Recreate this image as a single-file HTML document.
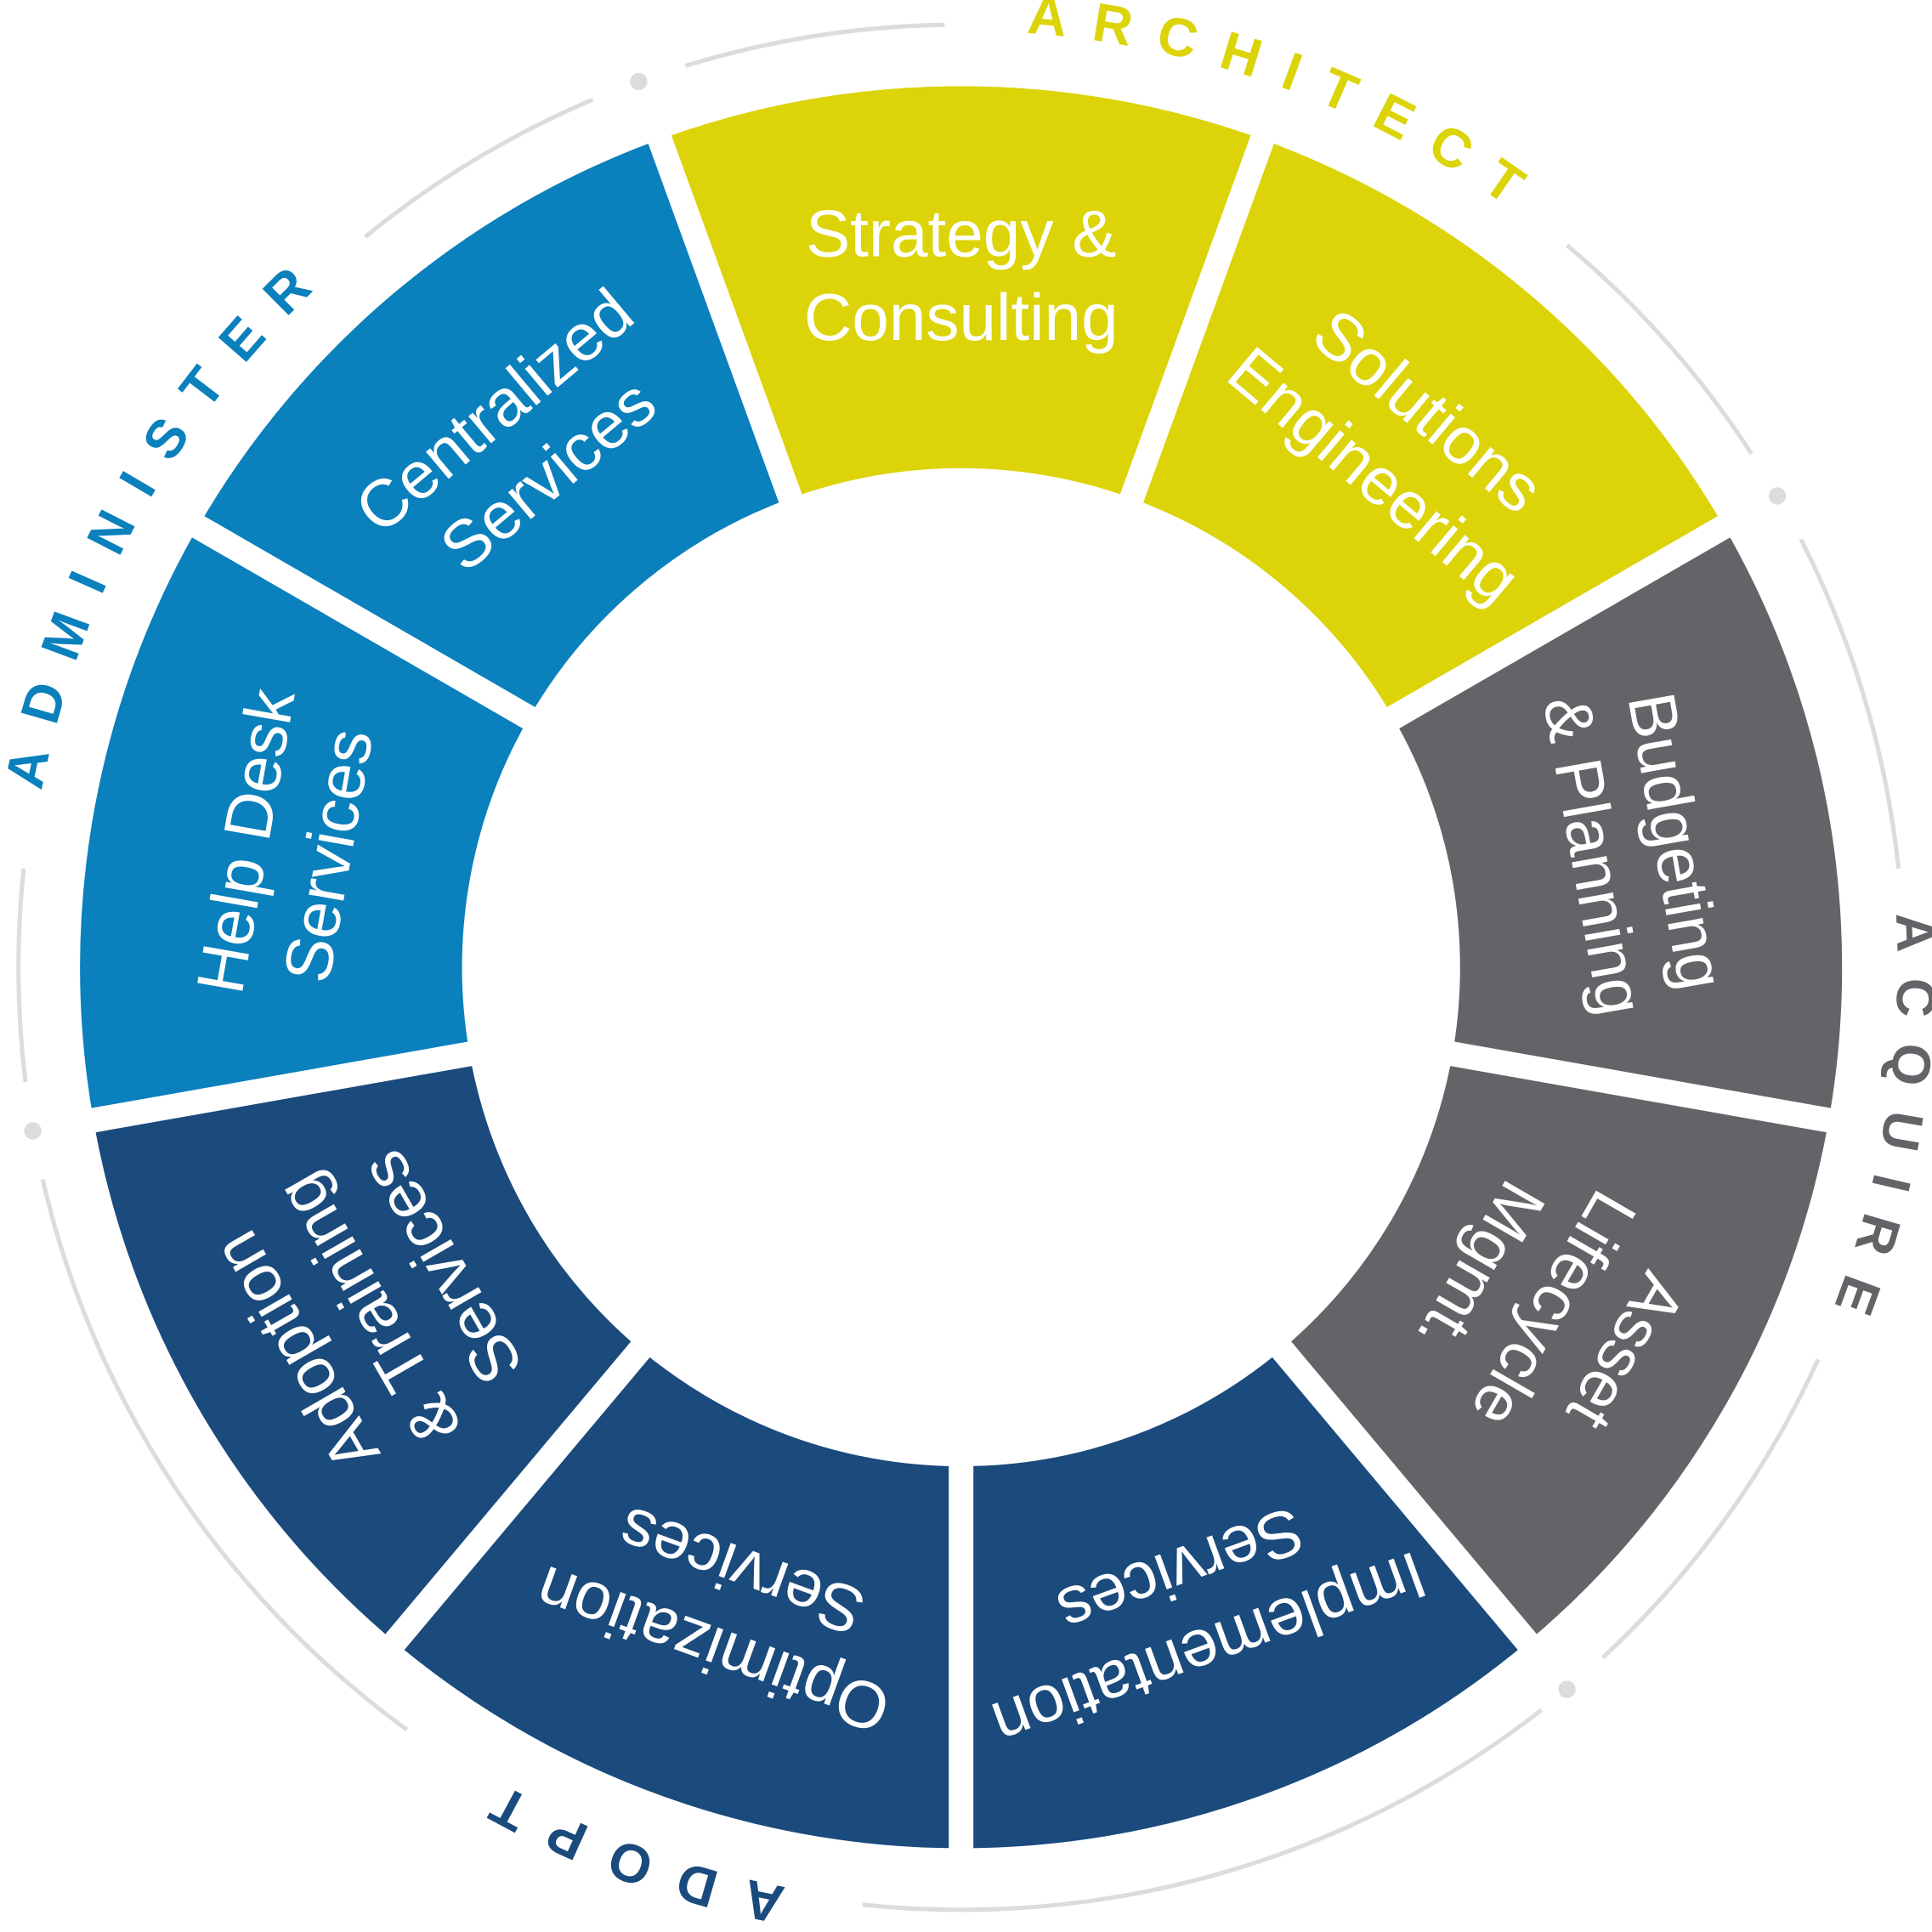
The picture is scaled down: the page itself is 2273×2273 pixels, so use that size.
<!DOCTYPE html>
<html><head><meta charset="utf-8"><style>
html,body{margin:0;padding:0;background:#fff;width:2273px;height:2273px;overflow:hidden;}
svg{display:block;}
.seg{font-family:"Liberation Sans",sans-serif;font-size:54px;fill:#fff;text-anchor:middle;}
.ring{font-family:"Liberation Sans",sans-serif;font-size:44px;font-weight:bold;}
</style></head><body>
<svg width="2273" height="2273" viewBox="0 0 1568 1568" xmlns="http://www.w3.org/2000/svg">
<defs>
<path id="rp" d="M 780 25 A 760 760 0 0 1 780 1545 A 760 760 0 0 1 780 25"/>
</defs>
<g fill="none" stroke-width="310" transform="rotate(-110 780 785)">
<circle cx="780" cy="785" r="560" stroke="#DCD309" stroke-dasharray="781.9 3600" stroke-dashoffset="0"/>
<circle cx="780" cy="785" r="560" stroke="#636467" stroke-dasharray="781.9 3600" stroke-dashoffset="-781.9"/>
<circle cx="780" cy="785" r="560" stroke="#1B4A7C" stroke-dasharray="1172.85 3600" stroke-dashoffset="-1563.8"/>
<circle cx="780" cy="785" r="560" stroke="#0A80BC" stroke-dasharray="781.9 3600" stroke-dashoffset="-2736.65"/>
</g>
<g stroke="#fff" stroke-width="20">
<line x1="780" y1="40" x2="780" y2="420" transform="rotate(-20 780 785)"/>
<line x1="780" y1="40" x2="780" y2="420" transform="rotate(20 780 785)"/>
<line x1="780" y1="40" x2="780" y2="420" transform="rotate(60 780 785)"/>
<line x1="780" y1="40" x2="780" y2="420" transform="rotate(100 780 785)"/>
<line x1="780" y1="40" x2="780" y2="420" transform="rotate(140 780 785)"/>
<line x1="780" y1="40" x2="780" y2="420" transform="rotate(180 780 785)"/>
<line x1="780" y1="40" x2="780" y2="420" transform="rotate(220 780 785)"/>
<line x1="780" y1="40" x2="780" y2="420" transform="rotate(260 780 785)"/>
<line x1="780" y1="40" x2="780" y2="420" transform="rotate(300 780 785)"/>
</g>
<g fill="none" stroke="#dcdcdc" stroke-width="3.5">
<circle cx="780" cy="785" r="765" transform="rotate(253 780 785)" stroke-dasharray="213.6 6000"/>
<circle cx="780" cy="785" r="765" transform="rotate(-50 780 785)" stroke-dasharray="226.9 6000"/>
<circle cx="780" cy="785" r="765" transform="rotate(-27 780 785)" stroke-dasharray="280.4 6000"/>
<circle cx="780" cy="785" r="765" transform="rotate(24.6 780 785)" stroke-dasharray="300.4 6000"/>
<circle cx="780" cy="785" r="765" transform="rotate(52 780 785)" stroke-dasharray="587.5 6000"/>
<circle cx="780" cy="785" r="765" transform="rotate(126 780 785)" stroke-dasharray="547.4 6000"/>
<circle cx="780" cy="785" r="765" transform="rotate(173 780 785)" stroke-dasharray="173.6 6000"/>
<circle cx="780" cy="785" r="765" transform="rotate(230.8 780 785)" stroke-dasharray="216.3 6000"/>
</g>
<g fill="#dcdcdc">
<circle cx="780" cy="20" r="7" transform="rotate(-20 780 785)"/>
<circle cx="780" cy="20" r="7" transform="rotate(60 780 785)"/>
<circle cx="780" cy="20" r="7" transform="rotate(140 780 785)"/>
<circle cx="780" cy="20" r="7" transform="rotate(260 780 785)"/>
</g>
<text class="ring" fill="#DCD309"><textPath href="#rp" startOffset="53" textLength="420" lengthAdjust="spacing">ARCHITECT</textPath></text>
<text class="ring" fill="#636467"><textPath href="#rp" startOffset="1150" textLength="325" lengthAdjust="spacing">ACQUIRE</textPath></text>
<text class="ring" fill="#1B4A7C"><textPath href="#rp" startOffset="2530" textLength="245" lengthAdjust="spacing">ADOPT</textPath></text>
<text class="ring" fill="#0A80BC"><textPath href="#rp" startOffset="3725" textLength="470" lengthAdjust="spacing">ADMINISTER</textPath></text>
<g class="seg">
<g transform="rotate(0 780 785)"><text x="780" y="208">Strategy &amp;</text><text x="780" y="276">Consulting</text></g>
<g transform="rotate(40 780 785)"><text x="780" y="214">Solutions</text><text x="780" y="282">Engineering</text></g>
<g transform="rotate(80 780 785)"><text x="780" y="214">Budgeting</text><text x="780" y="282">&amp; Planning</text></g>
<g transform="rotate(120 780 785)"><text x="780" y="180">Asset</text><text x="780" y="248">Lifecycle</text><text x="780" y="316">Mgmt.</text></g>
<g transform="rotate(160 780 785)"><text x="780" y="214">Implementation</text><text x="780" y="282">Services</text></g>
<g transform="rotate(200 780 785)"><text x="780" y="214">Optimization</text><text x="780" y="282">Services</text></g>
<g transform="rotate(240 780 785)"><text x="780" y="180">Adoption</text><text x="780" y="248">&amp; Training</text><text x="780" y="316">Services</text></g>
<g transform="rotate(280 780 785)"><text x="780" y="214">Help Desk</text><text x="780" y="282">Services</text></g>
<g transform="rotate(320 780 785)"><text x="780" y="214">Centralized</text><text x="780" y="282">Services</text></g>
</g>
</svg>
</body></html>
